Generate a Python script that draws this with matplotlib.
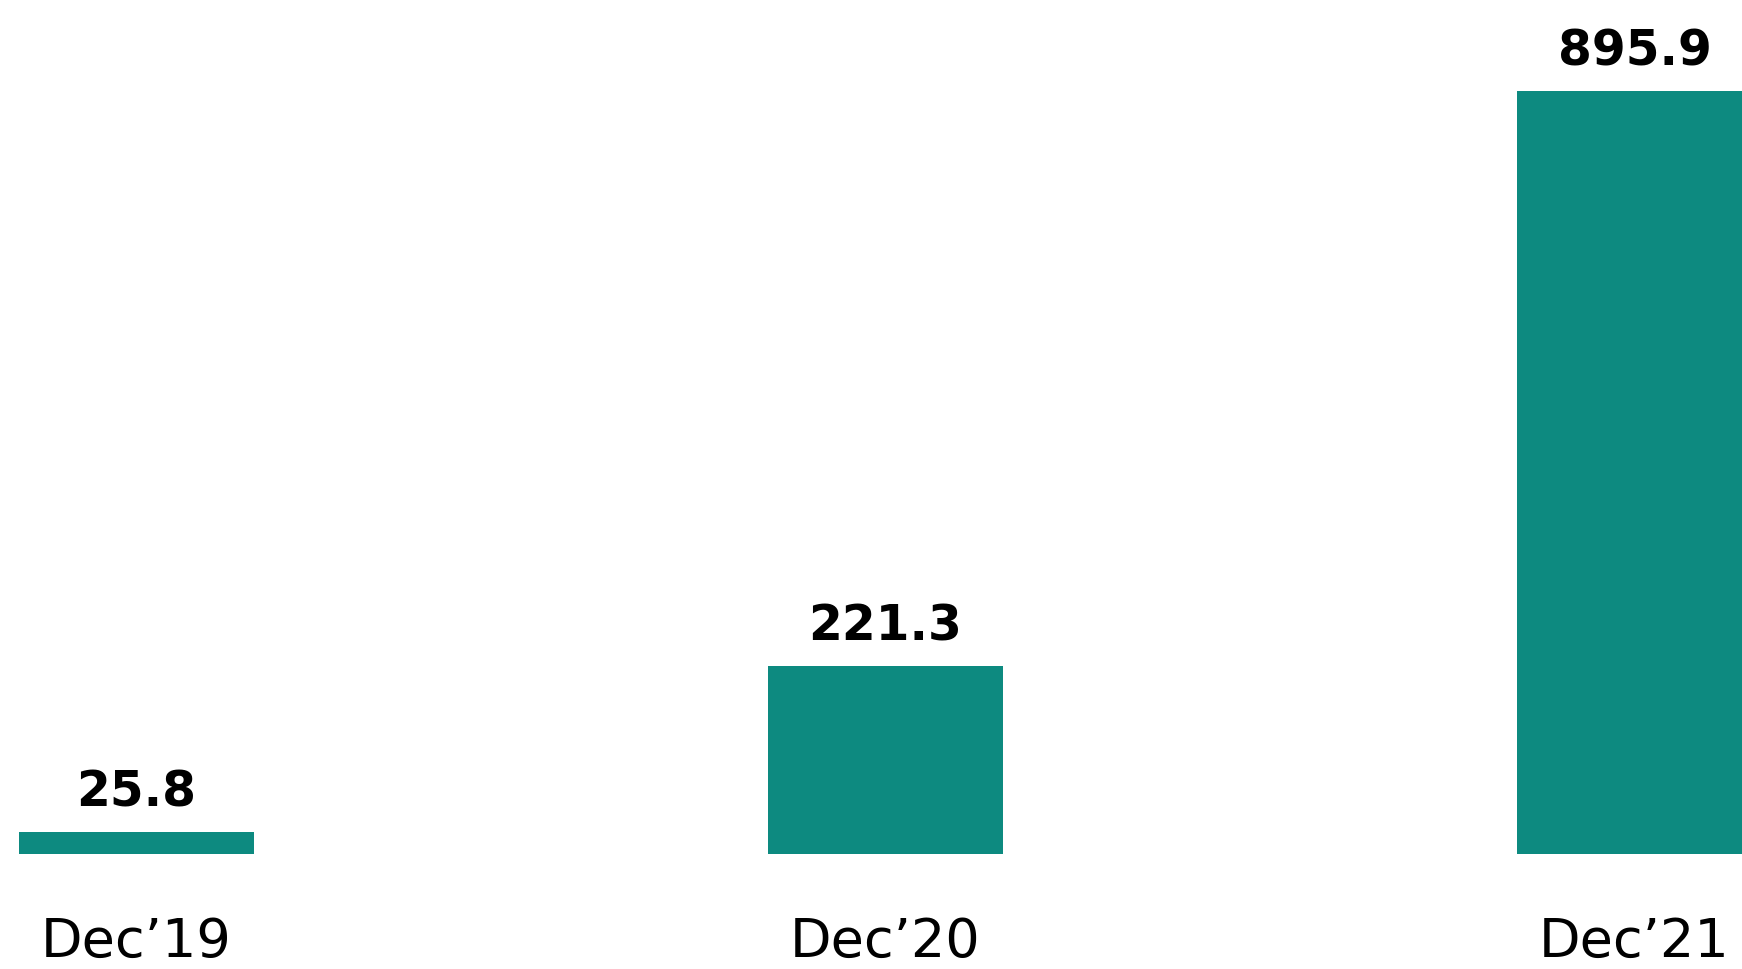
import matplotlib
matplotlib.use("Agg")
import matplotlib.pyplot as plt

# values
periods = ["Dec\u201919", "Dec\u201920", "Dec\u201921"]
values = [25.8, 221.3, 895.9]
value_labels = ["25.8", "221.3", "895.9"]

bar_color = "#0d8a80"

plt.rcParams["font.family"] = ["DejaVu Sans"]

fig = plt.figure(figsize=(17.42, 9.70), dpi=100)
# axes fill the width, baseline sits ~115 px above the bottom edge
ax = fig.add_axes([0, 115 / 970, 1, 855 / 970])

x = list(range(len(periods)))
bars = ax.bar(x, values, width=0.3138, color=bar_color)

for rect, lab in zip(bars, value_labels):
    ax.annotate(lab, (rect.get_x() + rect.get_width() / 2, rect.get_height()),
                xytext=(0, 19), textcoords="offset points",
                ha="center", va="baseline", fontsize=35, fontweight="bold",
                color="#000000")

ax.set_xlim(-0.1822, 2.1435)
ax.set_ylim(0, 1003.9)

ax.set_xticks(x)
ax.set_xticklabels(periods, fontsize=39, color="#000000")
ax.tick_params(axis="x", length=0, pad=44)
ax.set_yticks([])
for s in ax.spines.values():
    s.set_visible(False)

fig.savefig("out.png", dpi=100, facecolor="white")
